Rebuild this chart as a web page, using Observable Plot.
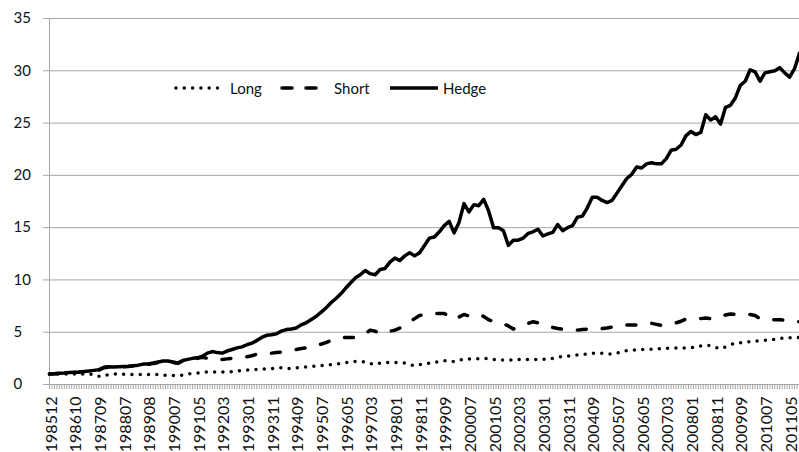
<!DOCTYPE html>
<html>
<head>
<meta charset="utf-8">
<script src="https://cdn.jsdelivr.net/npm/d3@7"></script>
<script src="https://cdn.jsdelivr.net/npm/@observablehq/plot@0.6"></script>
<style>
  body { margin: 0; background: #fff; font-family: Lato, "Open Sans", sans-serif; }
  #wrap { position: relative; width: 799px; height: 452px; overflow: hidden; }
  .leg { position: absolute; font-size: 15px; color: #111; line-height: 20px; white-space: nowrap; }
  .legsvg { position: absolute; }
</style>
</head>
<body>
<div id="wrap">
  <div id="chart"></div>
</div>
<script>
// Category tick labels (every 10th month shown on the axis)
const tickLabels = ["198512","198610","198709","198807","198908","199007","199105","199203","199301","199311",
  "199409","199507","199605","199703","199801","199811","199909","200007","200105","200203",
  "200301","200311","200409","200507","200605","200703","200801","200811","200909","201007","201105"];

const seriesNames = ["Long", "Short", "Hedge"];
const monthStep = 2; // values read every 2nd month

// Cumulative values, read every 2 months from month 0 to month 304
const hedge = [
  1.0,1.03,1.08,1.1,1.15,1.18,1.2,1.25,1.3,1.35,
  1.4,1.65,1.7,1.68,1.7,1.72,1.75,1.8,1.85,1.95,
  1.97,2.05,2.15,2.25,2.25,2.15,2.05,2.3,2.4,2.5,
  2.55,2.7,3.0,3.15,3.05,3.0,3.2,3.35,3.5,3.6,
  3.8,3.95,4.2,4.5,4.7,4.75,4.85,5.1,5.25,5.3,
  5.4,5.7,5.9,6.2,6.5,6.9,7.3,7.8,8.2,8.65,
  9.2,9.7,10.2,10.5,10.9,10.6,10.5,11.0,11.1,11.7,
  12.1,11.85,12.3,12.6,12.3,12.6,13.3,14.0,14.1,14.6,
  15.2,15.6,14.5,15.5,17.3,16.5,17.2,17.1,17.7,16.6,
  15.0,15.0,14.7,13.3,13.8,13.8,14.0,14.45,14.6,14.85,
  14.2,14.4,14.55,15.3,14.7,15.0,15.2,16.0,16.1,16.9,
  17.9,17.9,17.6,17.4,17.6,18.3,19.0,19.7,20.1,20.8,
  20.7,21.1,21.2,21.1,21.1,21.6,22.4,22.5,22.9,23.8,
  24.2,23.9,24.1,25.8,25.3,25.6,24.9,26.5,26.7,27.4,
  28.6,29.0,30.1,29.9,29.0,29.8,29.9,30.0,30.3,29.8,
  29.4,30.2,31.7
];
const short = [
  1.0,1.02,1.06,1.08,1.12,1.15,1.17,1.22,1.27,1.32,
  1.38,1.6,1.66,1.65,1.67,1.7,1.72,1.77,1.82,1.9,
  1.94,2.0,2.1,2.2,2.2,2.12,2.02,2.25,2.35,2.45,
  2.5,2.6,2.5,2.4,2.35,2.4,2.45,2.5,2.55,2.6,
  2.65,2.75,2.9,2.95,3.0,3.0,3.05,3.1,3.2,3.3,
  3.35,3.45,3.5,3.6,3.75,3.85,4.0,4.2,4.35,4.45,
  4.5,4.5,4.5,4.6,4.85,5.2,5.1,4.85,4.9,5.1,
  5.2,5.4,5.75,6.0,6.3,6.6,6.7,6.8,6.8,6.8,
  6.8,6.5,6.2,6.45,6.7,6.55,6.7,6.7,6.5,6.2,
  6.0,5.9,5.8,5.6,5.3,5.5,5.7,5.85,6.0,5.9,
  5.75,5.7,5.45,5.35,5.3,5.25,5.2,5.2,5.25,5.3,
  5.35,5.4,5.35,5.4,5.5,5.6,5.7,5.7,5.7,5.7,
  5.75,5.8,5.85,5.75,5.65,5.7,5.8,5.9,6.05,6.25,
  6.3,6.3,6.3,6.35,6.3,6.35,6.45,6.65,6.75,6.7,
  6.7,6.7,6.7,6.6,6.3,6.2,6.2,6.2,6.2,6.15,
  6.1,6.05,6.0
];
const long = [
  1.0,1.0,1.0,1.0,1.0,1.0,1.0,1.0,1.0,0.95,
  0.78,0.82,0.95,1.0,1.0,0.98,0.97,0.95,0.95,0.95,
  0.95,0.95,0.95,0.9,0.88,0.87,0.85,0.88,1.0,1.05,
  1.1,1.15,1.2,1.2,1.2,1.2,1.2,1.22,1.28,1.33,
  1.38,1.42,1.45,1.48,1.5,1.52,1.56,1.6,1.55,1.52,
  1.6,1.65,1.68,1.72,1.75,1.8,1.85,1.9,1.95,2.0,
  2.1,2.15,2.2,2.2,2.15,2.0,1.92,2.05,2.1,2.1,
  2.1,2.1,2.05,1.9,1.8,1.9,2.0,2.05,2.1,2.2,
  2.28,2.25,2.2,2.3,2.45,2.45,2.45,2.48,2.5,2.45,
  2.4,2.35,2.33,2.33,2.35,2.38,2.4,2.4,2.4,2.4,
  2.4,2.42,2.5,2.6,2.68,2.72,2.75,2.82,2.88,2.92,
  2.97,3.0,2.98,2.93,2.92,3.0,3.15,3.25,3.28,3.3,
  3.35,3.37,3.38,3.4,3.42,3.45,3.48,3.5,3.5,3.5,
  3.52,3.6,3.68,3.75,3.7,3.55,3.42,3.6,3.8,3.95,
  4.0,4.05,4.1,4.15,4.18,4.22,4.26,4.32,4.4,4.45,
  4.47,4.5,4.5
];
const yTicks = [0, 5, 10, 15, 20, 25, 30, 35];

const toRows = (arr) => arr.map((v, k) => ({m: k * monthStep, v}));
const longRows = toRows(long), shortRows = toRows(short), hedgeRows = toRows(hedge);
const nMonths = (hedge.length - 1) * monthStep;
const labelTicks = tickLabels.map((_, k) => k * 10);
const minorTicks = d3.range(0, nMonths + 1);

const gray = "#a6a6a6";
const chart = Plot.plot({
  width: 799,
  height: 452,
  marginLeft: 49,
  marginRight: 0,
  marginTop: 18,
  marginBottom: 68,
  style: {fontFamily: "Lato, 'Open Sans', sans-serif", fontSize: "15px", background: "#fff", color: "#111"},
  x: {domain: [0, nMonths], axis: null, label: null},
  y: {domain: [0, 35], axis: null, label: null},
  marks: [
    Plot.gridY(yTicks, {stroke: gray, strokeOpacity: 1, strokeWidth: 1}),
    Plot.axisY({ticks: yTicks, tickSize: 6, stroke: gray, strokeOpacity: 1, tickFormat: () => "", label: null}),
    Plot.axisY({ticks: yTicks, tickSize: 0, tickPadding: 36, textAnchor: "start", fontSize: 15, fill: "#111", label: null}),
    Plot.ruleX([0], {stroke: gray, strokeWidth: 1}),
    Plot.axisX({ticks: minorTicks, tickSize: 5, stroke: gray, strokeOpacity: 1, tickFormat: () => "", label: null}),
    Plot.axisX({ticks: labelTicks, tickSize: 0, tickPadding: 12, tickRotate: -90, fontSize: 16, fill: "#111", dx: 2,
      label: null, tickFormat: d => tickLabels[Math.round(d / 10)]}),
    Plot.line(longRows, {x: "m", y: "v", stroke: "#000", strokeWidth: 3.5, strokeDasharray: "0,8.3", strokeLinecap: "round"}),
    Plot.line(shortRows, {x: "m", y: "v", stroke: "#000", strokeWidth: 3.5, strokeDasharray: "9,16", strokeLinecap: "round"}),
    Plot.line(hedgeRows, {x: "m", y: "v", stroke: "#000", strokeWidth: 3.5, strokeLinejoin: "round"})
  ]
});
document.getElementById("chart").appendChild(chart);

// Legend inside the plot area
const wrap = document.getElementById("wrap");
const legendItems = [
  {name: seriesNames[0], dash: "0,8.3", sx: 172, tx: 230},
  {name: seriesNames[1], dash: "10,14", sx: 278, tx: 334},
  {name: seriesNames[2], dash: null, sx: 388, tx: 443}
];
const legendY = 78;
for (const it of legendItems) {
  const svg = d3.create("svg").attr("class", "legsvg").attr("width", 52).attr("height", 20)
    .style("left", it.sx + "px").style("top", legendY + "px");
  const ln = svg.append("line").attr("x1", it.dash === null ? 2 : 4).attr("x2", it.dash === null ? 50 : 48)
    .attr("y1", 10).attr("y2", 10).attr("stroke", "#000").attr("stroke-width", 3.5)
    .attr("stroke-linecap", it.dash === null ? "butt" : "round");
  if (it.dash) ln.attr("stroke-dasharray", it.dash);
  wrap.appendChild(svg.node());
  const t = document.createElement("div");
  t.className = "leg";
  t.textContent = it.name;
  t.style.left = it.tx + "px";
  t.style.top = (legendY) + "px";
  wrap.appendChild(t);
}
</script>
</body>
</html>
